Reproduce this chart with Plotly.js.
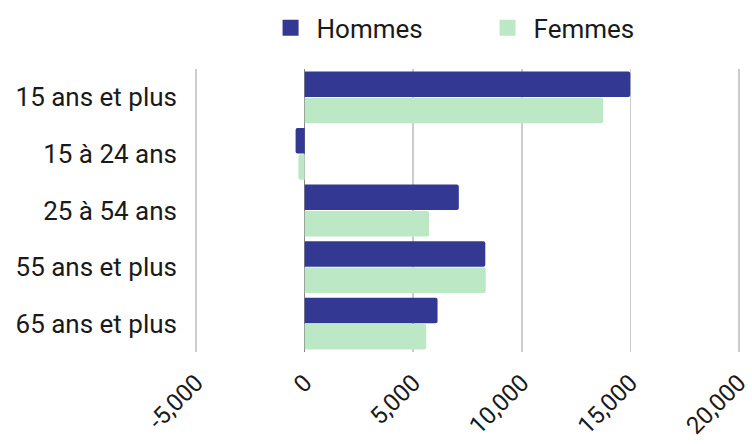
<!DOCTYPE html>
<html>
<head>
<meta charset="utf-8">
<script src="https://cdn.plot.ly/plotly-3.0.1.min.js"></script>
<style>html,body{margin:0;padding:0;background:#fff;}#chart{width:752px;height:444px;}</style>
</head>
<body>
<div id="chart"></div>
<script>
const categories = ["15 ans et plus", "15 à 24 ans", "25 à 54 ans", "55 ans et plus", "65 ans et plus"];
const hommes = [15000, -420, 7100, 8320, 6120];
const femmes = [13750, -290, 5730, 8340, 5600];
const tickVals = [-5000, 0, 5000, 10000, 15000, 20000];
const tickText = ["-5,000", "0", "5,000", "10,000", "15,000", "20,000"];
const colors = {Hommes: "#333893", Femmes: "#bde8c6"};

const font = "Roboto, 'Liberation Sans', sans-serif";
const data = [
  {type: "bar", orientation: "h", name: "Hommes", y: categories, x: hommes, showlegend: false,
   marker: {color: colors.Hommes, line: {width: 0}}, hoverinfo: "x"},
  {type: "bar", orientation: "h", name: "Femmes", y: categories, x: femmes, showlegend: false,
   marker: {color: colors.Femmes, line: {width: 0}}, hoverinfo: "x"},
  {type: "scatter", mode: "markers", name: "Hommes", x: [null], y: [null],
   marker: {symbol: "square", size: 16, color: colors.Hommes}},
  {type: "scatter", mode: "markers", name: "Femmes", x: [null], y: [null],
   marker: {symbol: "square", size: 16, color: colors.Femmes}}
];
const layout = {
  width: 752, height: 444,
  margin: {l: 194, r: 11, t: 69, b: 92, autoexpand: false},
  paper_bgcolor: "#fff", plot_bgcolor: "#fff",
  font: {family: font, color: "#1a1a1a", size: 20},
  barmode: "group", bargap: 0.07, bargroupgap: 0.03, barcornerradius: 2,
  showlegend: true,
  legend: {orientation: "h", x: 0.129, xanchor: "left", y: 1.145, yanchor: "middle",
           font: {size: 26, family: font, color: "#1a1a1a"}, itemwidth: 42,
           entrywidth: 160, entrywidthmode: "pixels", traceorder: "normal"},
  xaxis: {range: [-5100, 20100], tickvals: tickVals, ticktext: tickText, tickangle: -45,
          showgrid: true, gridcolor: "#cccccc", gridwidth: 1.5,
          zeroline: true, zerolinecolor: "#888888", zerolinewidth: 1.5,
          showline: false, ticks: "", ticklabelstandoff: 11, ticklabeloverflow: "allow",
          tickfont: {size: 24, family: font, color: "#1a1a1a"}},
  yaxis: {autorange: "reversed", showgrid: false, zeroline: false, showline: false,
          ticks: "", ticklabelstandoff: 16, tickfont: {size: 26, family: font, color: "#1a1a1a"}}
};
Plotly.newPlot("chart", data, layout, {displayModeBar: false, staticPlot: true});
</script>
</body>
</html>
